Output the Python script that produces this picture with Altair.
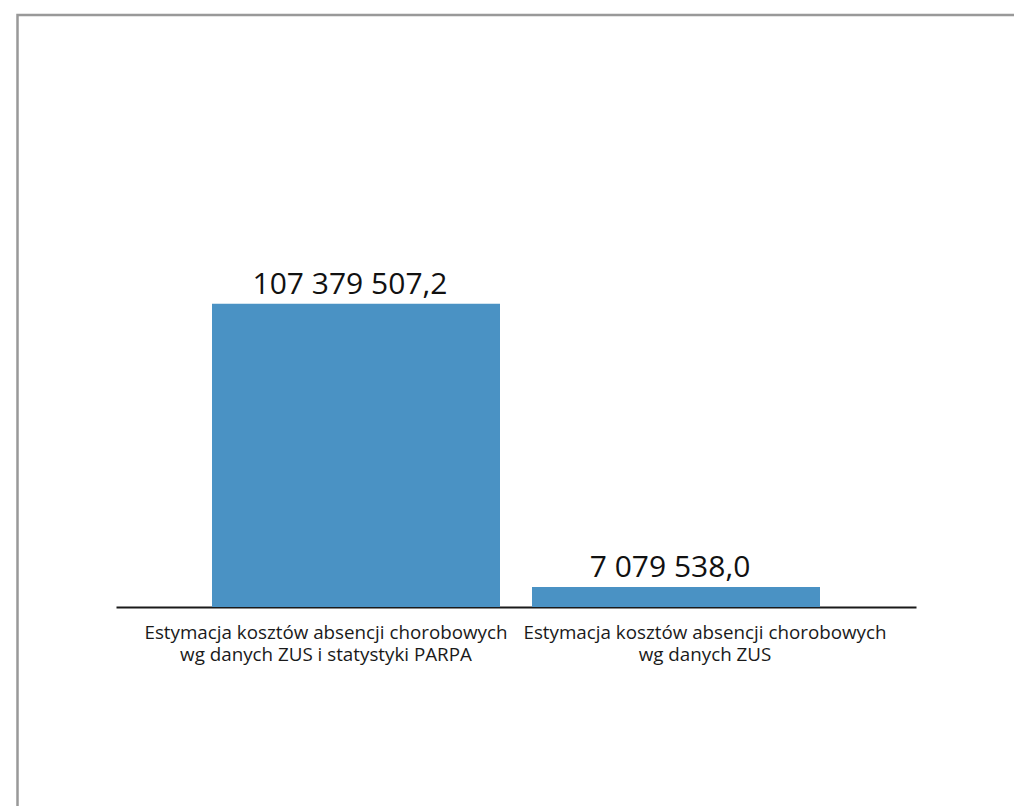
import altair as alt
import pandas as pd

line1 = ["Estymacja kosztów absencji chorobowych", "Estymacja kosztów absencji chorobowych"]
line2 = ["wg danych ZUS i statystyki PARPA", "wg danych ZUS"]
values = [107379507.2, 7079538.0]

cats = [a + "|" + b for a, b in zip(line1, line2)]
df = pd.DataFrame({"cat": cats, "value": values})

FONT = "Open Sans"

x = alt.X("cat:N", sort=cats,
          scale=alt.Scale(paddingInner=0.1, paddingOuter=0.3),
          axis=alt.Axis(title=None, labelExpr="split(datum.label, '|')",
                        labelAngle=0, labelFont=FONT, labelFontSize=18.8, labelLimit=0,
                        labelColor="#1a1a1a", labelPadding=16, labelLineHeight=22,
                        ticks=False, domainColor="#1a1a1a", domainWidth=2,
                        labelOffset={"condition": {"test": "datum.index < 0.5", "value": -30}, "value": 29}))
y = alt.Y("value:Q", scale=alt.Scale(domain=[0, 120000000]), axis=None)

base = alt.Chart(df)
bars = base.mark_bar(color="#4a92c4").encode(x=x, y=y)
text = base.mark_text(baseline="bottom", dy=-4, dx=-6, font=FONT, fontSize=30, color="#111111").encode(
    x=alt.X("cat:N", sort=cats), y="value:Q", text=alt.Text("value:Q", format=",.1f"))

border = alt.Chart(pd.DataFrame({"k": [0]})).mark_rect(
    fill=None, stroke="#999999", strokeWidth=2.5, clip=False).encode(
    x=alt.value(-98.5), x2=alt.value(1014), y=alt.value(-253), y2=alt.value(560))

chart = alt.layer(border, bars, text).properties(
    width=800, height=339,
    padding={"left": 116, "top": 268, "right": 98, "bottom": 199},
    autosize=alt.AutoSizeParams(type="none"),
).configure(
    locale={"number": {"decimal": ",", "thousands": " ", "grouping": [3], "currency": ["", " zł"]}}
).configure_view(stroke=None)

chart.save("out.html", embed_options={"renderer": "svg", "actions": False})
